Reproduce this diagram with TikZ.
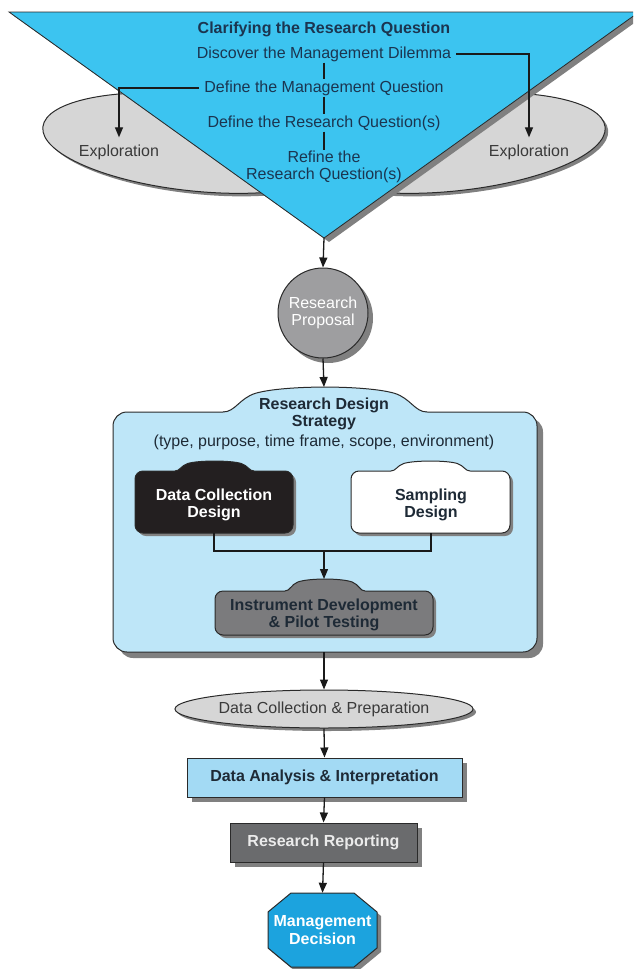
\documentclass[tikz,border=0pt]{standalone}
\usepackage{fontspec}
\setmainfont{Liberation Sans}
\usetikzlibrary{arrows.meta,shapes.geometric,shadows,calc}
\definecolor{cyanT}{HTML}{3CC4F0}
\definecolor{octc}{HTML}{1CA3DE}
\definecolor{dac}{HTML}{A3DAF4}
\definecolor{rdsc}{HTML}{BEE6F8}
\definecolor{circg}{HTML}{9E9EA0}
\definecolor{instc}{HTML}{7B7B7D}
\definecolor{rrc}{HTML}{6A6B6D}
\definecolor{ellg}{HTML}{D6D6D6}
\definecolor{shadowc}{HTML}{808080}
\definecolor{navy}{HTML}{1B3550}
\definecolor{dtxt}{HTML}{1E2A36}
\definecolor{txtg}{HTML}{3A3A3A}
\definecolor{edgec}{HTML}{2A2A2A}
\definecolor{linec}{HTML}{1A1A1A}
\definecolor{blackc}{HTML}{231F20}
\newcommand\sz{\fontsize{16}{17.5}\selectfont}
% dome-shaped hump on top of a box: #1 hump x1, #2 hump x2, #3 hump top y, #4 box top y
\newcommand\humppath[4]{%
(#1,#4) .. controls ({#1+0.06*(#2-#1)},#4) and ({#1+0.08*(#2-#1)},{#3+0.45*(#4-#3)})
 .. ({#1+0.16*(#2-#1)},{#3+0.25*(#4-#3)})
 .. controls ({#1+0.3*(#2-#1)},{#3-0.08*(#4-#3)}) and ({#2-0.3*(#2-#1)},{#3-0.08*(#4-#3)})
 .. ({#2-0.16*(#2-#1)},{#3+0.25*(#4-#3)})
 .. controls ({#2-0.08*(#2-#1)},{#3+0.45*(#4-#3)}) and ({#2-0.06*(#2-#1)},#4) .. (#2,#4)}
% full tab box: #1 x1, #2 ytop, #3 x2, #4 ybottom, #5 hump x1, #6 hump x2, #7 hump top, #8 radius, #9 fill
\newcommand\tabbox[9]{%
  \draw[fill=#9, draw=edgec, line width=1pt, rounded corners=#8] (#1,#2) rectangle (#3,#4);
  \fill[#9] \humppath{#5}{#6}{#7}{#2} -- (#6,#2+1.5) -- (#5,#2+1.5) -- cycle;
  \draw[draw=edgec, line width=1pt] \humppath{#5}{#6}{#7}{#2};}
\newcommand\tabshadow[8]{%
  \fill[shadowc, rounded corners=#8] (#1,#2) rectangle (#3,#4);
  \fill[shadowc] \humppath{#5}{#6}{#7}{#2} -- (#6,#2+1.5) -- (#5,#2+1.5) -- cycle;}
\begin{document}
\begin{tikzpicture}[x=1pt,y=-1pt,
  nf/.style={font=\sz},
  bf/.style={font=\sz\bfseries},
  arr/.style={draw=linec, line width=1.3pt, -{Triangle[length=10pt,width=8pt]}},
  conn/.style={draw=linec, line width=1.3pt},
  tri/.style={text=navy, inner sep=1pt},
  shape edge/.style={draw=edgec, line width=1pt},
  shad/.style={drop shadow={shadow xshift=5pt, shadow yshift=-5pt, fill=shadowc, opacity=1}}
]
\useasboundingbox (0,0) rectangle (633,969);
\clip (0,0) rectangle (633,969);

% exploration ellipses
\fill[shadowc, rotate around={-6:(198,146)}] (198,146) ellipse [x radius=153pt, y radius=48pt];
\draw[fill=ellg, shape edge, rotate around={-6:(195,143)}] (195,143) ellipse [x radius=153pt, y radius=48pt];
\fill[shadowc, rotate around={6:(456,146)}] (456,146) ellipse [x radius=153pt, y radius=48pt];
\draw[fill=ellg, shape edge, rotate around={6:(453,143)}] (453,143) ellipse [x radius=153pt, y radius=48pt];

% triangle
\fill[shadowc] (14,16) -- (644,16) -- (329,242) -- cycle;
\draw[fill=cyanT, draw=edgec, line width=0.8pt] (9,12) -- (639,12) -- (324,238) -- cycle;
\coordinate (apex) at (324,238);

\node[tri, bf] (t0) at (324,29) {Clarifying the Research Question};
\node[tri, nf] (t1) at (324,54) {Discover the Management Dilemma};
\node[tri, nf] (t2) at (324,88) {Define the Management Question};
\node[tri, nf] (t3) at (324,123) {Define the Research Question(s)};
\node[tri, nf, align=center] (t4) at (324,167) {Refine the\\Research Question(s)};
\node[nf, text=txtg, inner sep=1pt] (exL) at (119,152) {Exploration};
\node[nf, text=txtg, inner sep=1pt] (exR) at (529,152) {Exploration};

\draw[conn] (t1.south) -- (t2.north);
\draw[conn] (t2.south) -- (t3.north);
\draw[conn] (t3.south) -- (t4.north);
\draw[arr, shorten >=6pt] ([xshift=4pt]t1.east) -| (exR.north);
\draw[arr, shorten >=6pt] ([xshift=-4pt]t2.west) -| (exL.north);

% research proposal
\node[circle, minimum size=90pt, fill=circg, shape edge, shad, text=white, align=center, nf, inner sep=0pt] (rp) at (323,313) {Research\\Proposal};
\draw[arr] (apex) -- (rp.north);

% research design strategy
\begin{scope}[shift={(6,6)}]
  \tabshadow{113}{412}{537}{652}{223}{427}{387}{14pt}
\end{scope}
\tabbox{113}{412}{537}{652}{223}{427}{387}{14pt}{rdsc}
\node[bf, text=dtxt, align=center] (rdsT) at (324,414) {Research Design\\Strategy};
\node[nf, text=dtxt] (rdsS) at (324,442) {(type, purpose, time frame, scope, environment)};
\coordinate (rdsTop) at (324,387);
\coordinate (rdsBot) at (324,652);
\draw[arr] (rp.south) -- (rdsTop);

% shadows of the inner boxes
\begin{scope}[shift={(3,3)}]
  \tabshadow{135}{471}{293}{533}{175}{254}{461}{8pt}
  \tabshadow{351}{471}{510}{533}{391}{470}{461}{8pt}
  \tabshadow{215}{591}{433}{635}{285}{365}{579}{8pt}
\end{scope}

% data collection design
\tabbox{135}{471}{293}{533}{175}{254}{461}{8pt}{blackc}
\node[bf, text=white, align=center] (dcd) at (214,505) {Data Collection\\Design};
\coordinate (dcdBot) at (214,533);

% sampling design
\tabbox{351}{471}{510}{533}{391}{470}{461}{8pt}{white}
\node[bf, text=dtxt, align=center] (sd) at (431,505) {Sampling\\Design};
\coordinate (sdBot) at (431,533);

\coordinate (jn) at (324,551);
\draw[conn] (dcdBot) |- (jn) -| (sdBot);

% instrument development
\tabbox{215}{591}{433}{635}{285}{365}{579}{8pt}{instc}
\node[bf, text=dtxt, align=center] (idp) at (324,615) {Instrument Development\\\& Pilot Testing};
\coordinate (idpTop) at (324,579);
\draw[arr] (jn) -- (idpTop);

% data collection & preparation
\node[ellipse, minimum width=292pt, minimum height=38pt, fill=ellg, shape edge, inner sep=0pt, nf, text=txtg,
  drop shadow={shadow xshift=3pt, shadow yshift=-3pt, fill=shadowc, opacity=1}] (dcp) at (324,709) {Data Collection \& Preparation};
\draw[arr] (rdsBot) -- (dcp.north);

% data analysis
\node[rectangle, minimum width=275pt, minimum height=39pt, fill=dac, shape edge, shad, bf, text=dtxt] (da) at (324.5,777.5) {Data Analysis \& Interpretation};
\draw[arr] (dcp.south) -- (da.north);

% research reporting
\node[rectangle, minimum width=187pt, minimum height=39pt, fill=rrc, shape edge, shad, bf, text=white!92!black] (rr) at (323.5,842.5) {Research Reporting};
\draw[arr] (da.south) -- (rr.north);

% management decision
\fill[shadowc, shift={(4,4)}] (291,893) -- (354,893) -- (377,912) -- (377,948) -- (354,967) -- (291,967) -- (268,948) -- (268,912) -- cycle;
\draw[fill=octc, shape edge] (291,893) -- (354,893) -- (377,912) -- (377,948) -- (354,967) -- (291,967) -- (268,948) -- (268,912) -- cycle;
\node[bf, text=white, align=center, minimum height=74pt, inner sep=0pt] (md) at (322.5,930) {Management\\Decision};
\draw[arr] (rr.south) -- (md.north);
\end{tikzpicture}
\end{document}
